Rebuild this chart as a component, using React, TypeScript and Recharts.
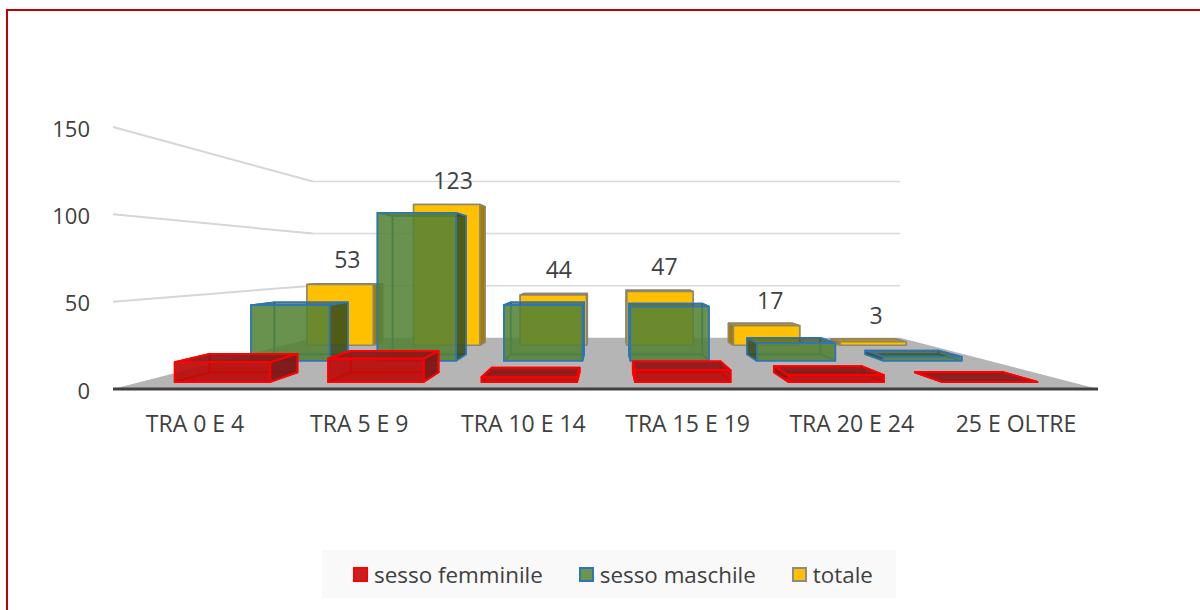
import { BarChart, Bar, XAxis, YAxis, CartesianGrid, Legend, LabelList } from "recharts";

const categories = ["TRA 0 E 4", "TRA 5 E 9", "TRA 10 E 14", "TRA 15 E 19", "TRA 20 E 24", "25 E OLTRE"];
const femmine = [12, 14, 3, 7, 4, 0];
const maschi = [41, 109, 41, 40, 13, 3];
const totale = [53, 123, 44, 47, 17, 3];
const yTicks = [0, 50, 100, 150];

const data = categories.map((label, i) => ({
  label,
  femmine: femmine[i],
  maschi: maschi[i],
  totale: totale[i],
}));

const FONT = '"Open Sans", sans-serif';
const TEXT = "#404040";

// vanishing point of the floor and walls, in screen pixels
const VX = 608;
const VY = 262;
const BACK = 0.596;
// the bars sit a bit closer together than the floor edges suggest
const BAR_SPREAD = 0.99;

const project = (x: number, y: number, k: number) => [VX + (x - VX) * k, VY + (y - VY) * k];
const pts = (list: number[][]) => list.map((p) => p.join(",")).join(" ");

interface BoxStyle {
  near: number;
  far: number;
  stroke: string;
  strokeWidth: number;
  front: string;
  side: string;
  top: string;
  inner: string;
}

const RED: BoxStyle = {
  near: 0.944,
  far: 0.868,
  stroke: "#ff0000",
  strokeWidth: 2,
  front: "rgba(192,10,10,0.85)",
  side: "rgba(125,25,25,0.95)",
  top: "rgba(140,25,25,0.9)",
  inner: "rgba(130,20,20,0.55)",
};

const GREEN: BoxStyle = {
  near: 0.778,
  far: 0.727,
  stroke: "#2e75b6",
  strokeWidth: 1.6,
  front: "rgba(84,130,53,0.84)",
  side: "rgba(55,75,25,0.85)",
  top: "rgba(50,80,30,0.6)",
  inner: "rgba(84,130,53,0.2)",
};

const YELLOW: BoxStyle = {
  near: 0.656,
  far: 0.63,
  stroke: "#8c8570",
  strokeWidth: 1.5,
  front: "#ffc000",
  side: "#a67c00",
  top: "#bf9000",
  inner: "#a67c00",
};

// eslint-disable-next-line @typescript-eslint/no-explicit-any
const boxShape = (s: BoxStyle) => (props: any) => {
  const { x, y, width, height } = props;
  const base = y + height;
  const cx = VX + (x + width / 2 - VX) * BAR_SPREAD;
  const left = cx - width / 2;
  const right = cx + width / 2;
  const face = (a: number[], b: number[], c: number[], d: number[], fill: string) => (
    <polygon
      points={pts([a, b, c, d])}
      fill={fill}
      stroke={s.stroke}
      strokeWidth={s.strokeWidth}
      strokeLinejoin="round"
    />
  );
  const ntl = project(left, y, s.near);
  const ntr = project(right, y, s.near);
  const nbl = project(left, base, s.near);
  const nbr = project(right, base, s.near);
  const ftl = project(left, y, s.far);
  const ftr = project(right, y, s.far);
  const fbl = project(left, base, s.far);
  const fbr = project(right, base, s.far);
  const showRight = cx < VX;
  return (
    <g>
      {face(ftl, ftr, fbr, fbl, s.inner)}
      {face(nbl, nbr, fbr, fbl, s.inner)}
      {showRight ? face(ntl, ftl, fbl, nbl, s.inner) : face(ntr, ftr, fbr, nbr, s.inner)}
      {face(ntl, ntr, ftr, ftl, s.top)}
      {showRight ? face(ntr, ftr, fbr, nbr, s.side) : face(ntl, ftl, fbl, nbl, s.side)}
      {height > 0 && face(ntl, ntr, nbr, nbl, s.front)}
    </g>
  );
};

// one horizontal grid tick becomes a back wall line plus its left wall line
// eslint-disable-next-line @typescript-eslint/no-explicit-any
const wallLine = (props: any) => {
  const { x1, x2, y1 } = props;
  const bl = project(x1, y1, BACK);
  const br = project(x2, y1, BACK);
  const isFloor = y1 > 380;
  return (
    <g key={props.key}>
      {isFloor && <polygon points={pts([[x1, y1], [x2, y1], br, bl])} fill="#b5b5b5" />}
      {!isFloor && <line x1={bl[0]} y1={bl[1]} x2={br[0]} y2={br[1]} stroke="#d9d9d9" strokeWidth={1.5} />}
      {!isFloor && <line x1={x1} y1={y1} x2={bl[0]} y2={bl[1]} stroke="#d6d6d6" strokeWidth={2} />}
    </g>
  );
};

// eslint-disable-next-line @typescript-eslint/no-explicit-any
const totalLabel = (props: any) => {
  const { x, y, width, value } = props;
  const [lx, ly] = project(x + width / 2, y, 0.644);
  return (
    <text x={lx + 5} y={ly - 25} textAnchor="middle" dominantBaseline="central" fontSize={23} fontFamily={FONT} fill={TEXT}>
      {value}
    </text>
  );
};

const legendSwatches: Record<string, { fill: string; stroke: string }> = {
  femmine: { fill: "#c82020", stroke: "#ff0000" },
  maschi: { fill: "#6a9550", stroke: "#2e75b6" },
  totale: { fill: "#ffc000", stroke: "#8c8c8c" },
};
const legendOrder = ["femmine", "maschi", "totale"];

// eslint-disable-next-line @typescript-eslint/no-explicit-any
const renderLegend = (props: any) => (
  <div
    style={{
      width: 574,
      height: 48,
      boxSizing: "border-box",
      paddingLeft: 8,
      background: "#f9f9f9",
      display: "flex",
      alignItems: "center",
      justifyContent: "center",
      gap: 36,
      fontFamily: FONT,
      fontSize: 22.4,
      color: TEXT,
    }}
  >
    {legendOrder.map((key) => {
      // eslint-disable-next-line @typescript-eslint/no-explicit-any
      const entry = props.payload.find((p: any) => p.dataKey === key);
      const sw = legendSwatches[key];
      return (
        <span key={key} style={{ display: "flex", alignItems: "center", gap: 6 }}>
          <span
            style={{
              width: 15,
              height: 15,
              boxSizing: "border-box",
              background: sw.fill,
              border: `2px solid ${sw.stroke}`,
              display: "inline-block",
            }}
          />
          {entry?.value}
        </span>
      );
    })}
  </div>
);

export default function App() {
  return (
    <div style={{ position: "absolute", left: 0, top: 0, width: 1200, height: 610, overflow: "hidden", background: "#fff" }}>
      <div
        style={{
          position: "absolute",
          left: 6,
          top: 9,
          width: 1300,
          height: 700,
          border: "2px solid #c00000",
        }}
      />
      <div style={{ position: "absolute", left: 0, top: 0 }}>
        <BarChart
          width={1200}
          height={610}
          data={data}
          barSize={101}
          barGap={-101}
          margin={{ top: 127, right: 102, bottom: 113, left: 0 }}
        >
          <CartesianGrid vertical={false} horizontal={wallLine} />
          <XAxis
            dataKey="label"
            height={60}
            interval={0}
            axisLine={{ stroke: "#404040", strokeWidth: 3 }}
            tickLine={false}
            tickMargin={21}
            tick={{ fill: TEXT, fontSize: 23, fontFamily: FONT }}
          />
          <YAxis
            width={113}
            domain={[0, 150]}
            ticks={yTicks}
            axisLine={false}
            tickLine={false}
            tickMargin={17}
            tick={{ fill: TEXT, fontSize: 22, fontFamily: FONT, dy: 2 }}
          />
          <Legend content={renderLegend} wrapperStyle={{ left: 322, top: 550, width: 574, height: 48 }} />
          <Bar dataKey="totale" name="totale" fill="#ffc000" shape={boxShape(YELLOW)} isAnimationActive={false}>
            <LabelList dataKey="totale" content={totalLabel} />
          </Bar>
          <Bar dataKey="maschi" name="sesso maschile" fill="#548235" shape={boxShape(GREEN)} isAnimationActive={false} />
          <Bar dataKey="femmine" name="sesso femminile" fill="#c00000" shape={boxShape(RED)} isAnimationActive={false} />
        </BarChart>
      </div>
    </div>
  );
}
